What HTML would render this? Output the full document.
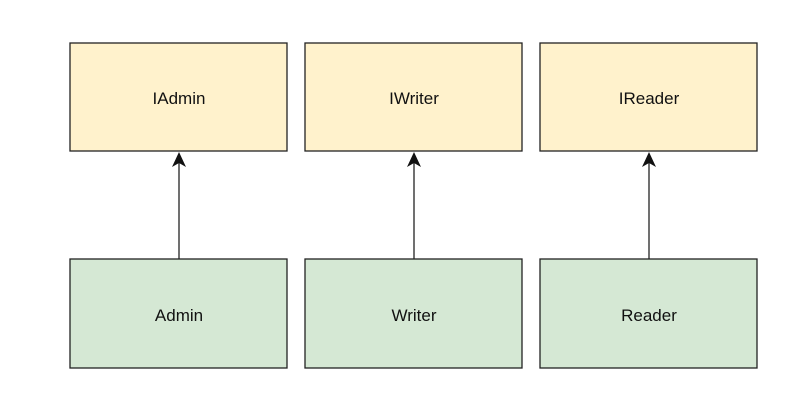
<!DOCTYPE html>
<html><head><style>body{margin:0;background:#fff}</style></head><body>
<svg width="800" height="405" xmlns="http://www.w3.org/2000/svg" font-family="Liberation Sans, sans-serif" font-size="17" text-anchor="middle">
<rect width="800" height="405" fill="#fff"/>
<g stroke="#222" stroke-width="1.3">
<rect x="70" y="43" width="217" height="108" fill="#fff2cc"/>
<rect x="305" y="43" width="217" height="108" fill="#fff2cc"/>
<rect x="540" y="43" width="217" height="108" fill="#fff2cc"/>
<rect x="70" y="259" width="217" height="109" fill="#d5e8d4"/>
<rect x="305" y="259" width="217" height="109" fill="#d5e8d4"/>
<rect x="540" y="259" width="217" height="109" fill="#d5e8d4"/>
<line x1="179" y1="259" x2="179" y2="162"/>
<line x1="414" y1="259" x2="414" y2="162"/>
<line x1="649" y1="259" x2="649" y2="162"/>
</g>
<g fill="#111">
<path d="M179 152 L186 167 L179 163 L172 167 Z"/>
<path d="M414 152 L421 167 L414 163 L407 167 Z"/>
<path d="M649 152 L656 167 L649 163 L642 167 Z"/>
<text x="179" y="104">IAdmin</text>
<text x="414" y="104">IWriter</text>
<text x="649" y="104">IReader</text>
<text x="179" y="321">Admin</text>
<text x="414" y="321">Writer</text>
<text x="649" y="321">Reader</text>
</g>
</svg>
</body></html>
